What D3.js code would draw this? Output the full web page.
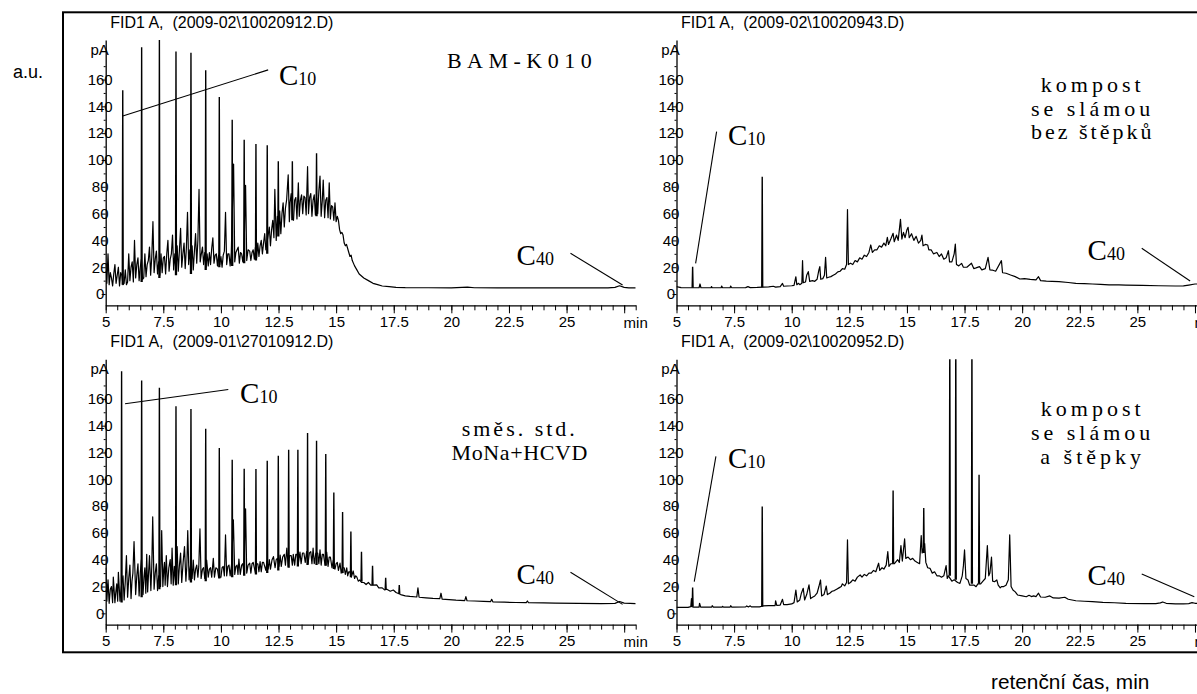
<!DOCTYPE html>
<html>
<head>
<meta charset="utf-8">
<script src="https://cdn.jsdelivr.net/npm/d3@7/dist/d3.min.js"></script>
<style>
  body { margin: 0; background: #fff; }
  svg { display: block; }
  .tick text { font-family: "Liberation Sans", Arial, sans-serif; font-size: 15px; fill: #000; }
  .serif { font-family: "Liberation Serif", "Times New Roman", serif; fill: #000; }
  .sans { font-family: "Liberation Sans", Arial, sans-serif; fill: #000; }
</style>
</head>
<body>
<svg id="chart" width="1197" height="694"></svg>
<script>
// tick values
var xTicks = [5, 7.5, 10, 12.5, 15, 17.5, 20, 22.5, 25, 27.5];
var xLabelled = [5, 7.5, 10, 12.5, 15, 17.5, 20, 22.5, 25];
var xMinor = d3.range(5, 28.01, 0.5);
var yTicks = [0, 20, 40, 60, 80, 100, 120, 140, 160];
var yMinor = [10, 30, 50, 70, 90, 110, 130, 150, 170];

// run titles
var titles = ["FID1 A,  (2009-02\\10020912.D)", "FID1 A,  (2009-02\\10020943.D)",
              "FID1 A,  (2009-01\\27010912.D)", "FID1 A,  (2009-02\\10020952.D)"];

// sample names (lines of text)
var sampleNames = [["BAM-K010"], ["kompost", "se slámou", "bez štěpků"],
                   ["směs. std.", "MoNa+HCVD"], ["kompost", "se slámou", "a štěpky"]];
var nameSpacing = [[5.5], [4, 4, 3], [3, 0.6], [4, 4, 4]];

// --- BAM-K010 (top left): signal [min, pA]
var tlTrace = [[5.00,22],[5.05,8],[5.10,30],[5.15,7],[5.20,16],[5.25,12],[5.30,6],[5.35,15],[5.40,22],[5.45,8],[5.50,14],[5.55,20],[5.60,6],
  [5.65,16],[5.70,14],[5.75,7],[5.80,8],[5.85,18],[5.90,7],[5.95,9],[6.00,30],[6.05,10],[6.10,20],[6.15,24],[6.20,9],[6.25,40],[6.30,12],
  [6.35,22],[6.40,27],[6.45,10],[6.50,20],[6.55,26],[6.60,11],[6.65,12],[6.70,30],[6.75,13],[6.80,22],[6.85,25],[6.90,35],[6.95,14],[7.00,28],[7.05,54],
  [7.10,16],[7.15,26],[7.20,32],[7.25,15],[7.30,24],[7.35,14],[7.40,30],[7.45,16],[7.50,27],[7.55,28],[7.60,15],[7.65,30],[7.70,40],[7.75,17],[7.80,26],[7.85,30],
  [7.90,44],[7.95,18],[8.00,30],[8.05,16],[8.10,36],[8.15,17],[8.20,33],[8.25,49],[8.30,20],[8.35,30],[8.40,38],[8.45,19],[8.50,34],[8.55,61],[8.60,22],
  [8.65,33],[8.70,19],[8.75,36],[8.80,18],[8.85,32],[8.90,45],[8.95,23],[9.00,40],[9.05,78],[9.10,24],[9.15,30],[9.20,35],[9.25,22],[9.30,31],[9.35,20],[9.40,30],[9.45,21],
  [9.50,31],[9.55,22],[9.60,34],[9.65,42],[9.70,23],[9.75,29],[9.80,30],[9.85,21],[9.90,29],[9.95,22],[10.00,28],[10.05,20],[10.10,29],[10.15,32],[10.20,61],[10.25,22],
  [10.30,30],[10.35,30],[10.40,21],[10.45,31],[10.55,97],[10.60,24],[10.65,31],[10.70,33],[10.75,35],[10.80,23],[10.85,31],[10.90,30],[10.95,24],[11.00,32],[11.07,81],
  [11.12,25],[11.18,33],[11.25,32],[11.30,25],[11.35,31],[11.40,33],[11.45,26],[11.50,35],[11.55,27],[11.60,38],[11.65,28],[11.70,36],[11.75,40],[11.80,30],[11.85,38],[11.90,45],
  [11.95,33],[12.05,44],[12.10,50],[12.15,36],[12.20,48],[12.25,55],[12.30,42],[12.34,78],[12.40,40],[12.45,58],[12.50,44],[12.55,62],[12.60,45],[12.65,60],[12.70,68],[12.75,50],
  [12.80,64],[12.85,70],[12.92,89],[12.97,54],[13.00,68],[13.05,75],[13.10,57],[13.15,55],[13.20,70],[13.25,72],[13.30,56],[13.36,83],[13.40,58],[13.45,70],[13.50,74],[13.55,60],
  [13.60,73],[13.65,72],[13.70,59],[13.76,95],[13.80,60],[13.85,72],[13.90,75],[13.95,58],[14.00,70],[14.05,74],[14.10,59],[14.15,72],[14.20,60],[14.25,77],[14.30,88],[14.35,58],
  [14.40,70],[14.44,85],[14.50,57],[14.55,70],[14.60,72],[14.65,57],[14.70,83],[14.75,56],[14.80,66],[14.85,65],[14.90,55],[14.95,68],[15.00,54],[15.05,58],[15.10,55],[15.15,48],[15.20,45],
  [15.25,46],[15.30,44],[15.35,38],[15.40,36],[15.45,37],[15.50,34],[15.55,31],[15.60,28],[15.65,29],[15.70,25],[15.80,21],[15.90,18],[16.00,15],[16.20,12],[16.40,10],
  [16.60,8],[16.80,7],[17.00,6],[17.30,5.5],[17.60,5],[18.00,4.8],[19.00,4.7],[20.00,4.6],[20.70,5.2],[21.00,4.7],
  [22.00,4.6],[26.80,4.6],[27.10,5.0],[27.30,6.2],[27.50,5.0],[27.70,4.6],[28.00,4.6]];
// n-alkane peaks: [min, base pA, top pA]
var tlPeaks = [[5.74,7,152],[6.56,9,184],[7.33,12,190],[8.05,14,181],[8.70,15,180],[9.34,18,167],[9.93,20,147],
  [10.49,21,130],[11.01,23,115],[11.52,25,112],[12.01,30,111],[12.49,43,99],[13.10,55,99],[14.15,58,105]];

// --- kompost se slámou bez štěpků (top right)
var trTrace = [[5.0,5.5],[5.2,4.8],[5.6,4.7],[5.98,4.7],[6.02,7.5],[6.06,4.7],[6.5,4.7],[6.52,5.6],[6.55,4.7],
  [6.94,4.7],[6.96,6],[7.0,4.7],[7.33,4.7],[7.35,6],[7.4,4.7],[8.0,4.8],[8.1,5.5],[8.2,4.8],[8.5,4.9],[8.75,5.2],
  [9.0,5.3],[9.2,5.8],[9.3,5.2],[9.5,5.6],[9.6,7.9],[9.65,5.8],[9.8,6],[10.0,6.2],[10.1,6.5],[10.18,12.9],
  [10.22,7],[10.3,8],[10.35,7],[10.44,8],[10.47,25],[10.5,8.5],[10.6,9],[10.65,14],[10.72,16.7],[10.78,9.5],
  [10.9,10],[11.0,9.5],[11.1,11],[11.18,18],[11.22,20.4],[11.26,11],[11.35,11.5],[11.42,14],[11.47,27.4],[11.52,12],
  [11.6,12.5],[11.7,13],[11.8,14],[11.9,15],[12.0,16.5],[12.1,17],[12.2,19],[12.3,18.5],[12.38,22],[12.42,63],
  [12.46,22],[12.55,23],[12.65,22],[12.75,25],[12.85,24],[12.95,27],[13.05,26],[13.15,29],[13.25,28],[13.35,31],
  [13.43,36.6],[13.5,31],[13.6,33],[13.7,33],[13.8,36],[13.9,35],[14.0,38],[14.08,36],[14.15,42.3],[14.2,37],
  [14.3,41],[14.4,45.3],[14.45,39],[14.55,44],[14.62,40],[14.72,55.7],[14.78,41],[14.85,46],[14.92,42],[15.0,48],
  [15.05,49.8],[15.1,42],[15.2,45],[15.3,40],[15.4,43],[15.5,38],[15.6,40],[15.65,44],[15.7,36],[15.8,37],
  [15.9,36.6],[15.95,33],[16.05,33],[16.15,30],[16.3,31],[16.4,28],[16.5,29.9],[16.6,26],[16.7,27],[16.8,32.3],
  [16.85,24],[16.95,24],[17.05,30],[17.1,37.3],[17.15,22],[17.25,21],[17.37,22.9],[17.45,20],[17.6,20],[17.8,23],
  [17.9,19],[18.0,19.5],[18.15,20.4],[18.25,18],[18.4,19],[18.52,27.4],[18.6,18],[18.7,17.9],[18.85,17],[19.1,24.9],
  [19.15,15.9],[19.3,15.5],[19.5,14.2],[19.7,13],[19.9,11.2],[20.1,11.5],[20.35,10.9],[20.6,10.5],[20.71,12.9],[20.8,10],
  [21.05,9.7],[21.3,9.5],[21.6,9.2],[22.0,8.6],[22.33,8],[22.7,7.8],[23.05,7.5],[23.4,7.2],[23.77,6.9],[24.2,6.8],
  [24.5,6.7],[25.2,6.5],[25.93,6.2],[26.65,6.0],[27.0,6.1],[27.23,6.7],[27.5,7.5],[28,7.5]];
var trPeaks = [[5.70,4.7,20.4],[8.72,5,87.5]];

// --- směs. std. MoNa+HCVD (bottom left)
var blTrace = [[5.00,34],[5.05,9],[5.10,25],[5.15,7.5],[5.20,18],[5.25,20],[5.30,8],[5.33,27],[5.40,8],[5.44,16],[5.48,22],[5.52,9],[5.55,30.6],[5.62,9],
  [5.68,20],[5.75,28],[5.80,10],[5.85,24],[5.90,43],[5.95,12],[6.00,26],[6.05,36],[6.10,11],[6.14,24],[6.18,30],[6.23,53.5],[6.30,14],[6.35,28],[6.40,37],
  [6.45,13],[6.50,30],[6.55,40],[6.62,14],[6.66,27],[6.70,34],[6.74,15],[6.78,44],[6.82,16],[6.86,30],[6.90,43],[6.96,17],[7.00,35],[7.04,72],[7.10,18],
  [7.15,30],[7.20,37],[7.25,17],[7.30,28],[7.38,20],[7.43,61.8],[7.48,20],[7.52,33],[7.55,38],[7.58,21],[7.63,43],[7.68,20],[7.74,34],[7.80,40],[7.84,22],[7.88,48.6],[7.93,21],
  [7.98,35],[8.03,23],[8.10,49.8],[8.15,22],[8.20,36],[8.25,45],[8.30,23],[8.36,38],[8.42,49.8],[8.48,24],[8.52,35],[8.56,61.8],[8.62,25],[8.66,33],[8.70,38],[8.75,26],[8.80,39.8],
  [8.85,25],[8.90,33],[8.95,36],[9.00,27],[9.04,35],[9.09,63],[9.14,26],[9.20,33],[9.25,34],[9.30,26],[9.38,39.8],[9.45,27],[9.50,33],[9.55,34],[9.60,27],[9.67,41],
  [9.72,27],[9.78,34],[9.85,33],[9.90,27],[10.00,27],[10.05,34],[10.10,35],[10.15,28],[10.20,58.5],[10.25,28],[10.30,35],[10.35,36],[10.40,28],[10.46,36],[10.54,69.8],[10.60,29],
  [10.65,35],[10.70,36],[10.74,29],[10.78,40.5],[10.84,29],[10.90,36],[10.95,37],[11.00,30],[11.07,78],[11.12,30],[11.18,36],[11.25,37.4],[11.30,30],[11.35,37],[11.40,38],[11.50,30],
  [11.55,37],[11.60,37],[11.65,31],[11.70,38.6],[11.75,31],[11.80,38],[11.85,38],[11.95,32],[12.00,39],[12.05,33],[12.10,40],[12.15,33],[12.22,40],[12.28,42.3],[12.35,34],[12.40,40],[12.45,41],
  [12.52,35],[12.57,43.4],[12.62,35],[12.68,42],[12.75,44],[12.80,36],[12.86,48.6],[12.92,35],[12.98,43],[13.05,43],[13.10,36],[13.14,44],[13.20,36],[13.25,44],[13.30,44],[13.36,37],[13.43,45.7],
  [13.48,37],[13.54,45],[13.60,45],[13.66,38],[13.72,46],[13.78,37],[13.84,45],[13.90,46],[13.95,37],[14.00,48.6],[14.05,37],[14.12,45],[14.20,45],[14.25,37],[14.30,47.4],[14.35,36],
  [14.40,44],[14.45,44],[14.52,36],[14.59,45.7],[14.65,35],[14.70,42],[14.75,42],[14.82,34],[14.88,39.8],[14.95,33],[15.00,37],[15.05,38],[15.10,32],[15.17,37.4],[15.22,30],[15.28,34],[15.35,34],
  [15.40,29],[15.46,34],[15.50,28],[15.55,31],[15.60,31],[15.66,27],[15.74,31.6],[15.80,26],[15.85,28],[15.90,27],[15.96,24],[16.03,24.9],[16.10,23],[16.20,23],[16.30,21.5],[16.40,23],[16.50,21],[16.60,21],
  [16.76,21.2],[16.85,19],[17.00,19],[17.10,17.5],[17.20,18],[17.35,16.5],[17.48,17.4],[17.60,15.5],[17.80,14],[18.00,13],[18.20,12.6],[18.50,12.2],[18.55,19],
  [18.60,12],[18.90,11.6],[19.20,11.2],[19.50,11],[19.55,15],[19.60,10.6],[19.90,10.2],
  [20.20,9.8],[20.58,9.5],[20.63,12.5],[20.68,9.4],[21.00,9.2],[21.40,8.9],[21.70,8.7],[21.75,10.5],[21.80,8.6],[22.30,8.3],
  [22.80,8.1],[23.25,8],[23.30,9.2],[23.35,7.9],[24.00,7.8],[24.50,7.6],[25.50,7.4],[26.50,7.2],[27.10,7.4],[27.30,8.8],[27.50,7.6],[28.00,7.3]];
var blPeaks = [[5.69,8,180.6],[6.56,12,173.7],[7.33,18,168.2],[8.05,21,154.5],[8.70,23,152.5],[9.34,24,137.6],
  [9.93,26,123.4],[10.49,27,114.6],[11.01,28,107.9],[11.52,29,107.7],[12.01,30,113.9],[12.49,32,117.6],
  [12.94,34,122.1],[13.34,35,122.1],[13.76,36,134.6],[14.15,36,128.8],[14.55,35.5,118.9],[14.90,33,90.2],
  [15.28,30,75.5],[15.64,27,61],[16.10,23.6,46],[16.58,21,35.4],[17.15,18,26.6],[17.74,14.5,21.2]];

// --- kompost se slámou a štěpky (bottom right)
var brTrace = [[5.0,4.5],[5.5,4.5],[5.62,5],[5.65,11],[5.67,5],[5.75,4.6],[5.98,4.6],[6.0,7.5],[6.05,4.6],[6.53,4.6],
  [6.55,5.7],[6.6,4.6],[6.98,4.6],[7.0,5.2],[7.05,4.6],[7.33,4.6],[7.35,5.7],[7.4,4.6],[8.0,4.8],[8.05,5.5],
  [8.12,4.8],[8.2,5.6],[8.25,4.8],[8.6,4.8],[8.75,5.5],[9.0,5.8],[9.28,5.8],[9.3,9.4],[9.35,6],[9.5,6.2],
  [9.6,10.5],[9.65,6.5],[9.8,6.5],[10.0,7],[10.1,8],[10.18,17.4],[10.24,8.5],[10.35,10],[10.42,15],[10.5,18.7],
  [10.56,10],[10.65,14],[10.75,21.2],[10.82,11],[10.9,12],[11.0,13],[11.1,15],[11.18,20],[11.25,24.9],[11.3,13],
  [11.4,14],[11.5,20.4],[11.55,14],[11.65,15],[11.75,16.5],[11.85,17],[11.95,18],[12.05,19],[12.15,20],[12.2,22],
  [12.3,20.5],[12.38,23],[12.42,54.8],[12.46,22],[12.55,23],[12.65,25],[12.75,24],[12.85,27],[12.97,28.6],[13.05,27],
  [13.15,29],[13.25,28],[13.35,30],[13.45,30],[13.55,32],[13.65,31],[13.77,37.4],[13.82,32],[13.92,34],[14.0,33],
  [14.1,36],[14.17,46],[14.22,35],[14.3,37],[14.45,37],[14.5,38],[14.6,40],[14.67,38],[14.74,50.5],[14.8,39],
  [14.9,55.5],[14.95,41],[15.05,42],[15.15,40],[15.25,41],[15.35,39],[15.45,38],[15.55,37],[15.62,58],[15.66,45],
  [15.77,52],[15.82,38],[15.9,34],[16.0,33.6],[16.1,30],[16.2,31],[16.3,28],[16.4,28],[16.5,27],[16.6,28],
  [16.7,35.6],[16.75,26],[16.8,28],[16.95,24],[17.05,25],[17.2,23],[17.3,22.4],[17.4,28],[17.45,35.4],[17.5,47.3],
  [17.56,26],[17.65,24.9],[17.72,21],[17.92,21],[18.0,19.9],[18.08,22],[18.2,22],[18.3,24],[18.4,26],[18.49,50.5],
  [18.55,28],[18.6,30],[18.67,41.9],[18.72,24],[18.8,23.6],[18.9,24.9],[18.96,21],[19.05,19],[19.1,19.9],[19.2,20],
  [19.3,21],[19.4,25],[19.46,58.5],[19.52,20],[19.6,17.4],[19.7,16],[19.8,13.7],[20.0,13],[20.18,12.4],[20.3,13.5],
  [20.4,12.5],[20.5,13],[20.6,12.5],[20.71,15],[20.8,12.2],[21.0,12],[21.2,13],[21.35,11.5],[21.6,11.3],[21.85,12],
  [22.0,10.5],[22.33,9.4],[22.7,9],[23.05,8.7],[23.5,8.2],[24.0,7.9],[24.5,7.5],[25.3,7.3],[25.8,7.3],[26.0,7.8],
  [26.1,8.5],[26.25,7.5],[26.65,7],[27.0,7.1],[27.23,7.3],[27.37,8],[27.5,7.5],[28,7.4]];
var brPeaks = [[5.70,5,19.2],[8.72,5,79.7],[14.40,37,91.7],[15.73,45,78.5],[16.86,28,210],[17.12,25,210],
  [17.82,22,210],[18.13,22,103.4]];

// C10 / C40 annotations: [label min, label pA, line from min, pA, line to min, pA]
var c10Notes = [[12.52,156,5.74,132.8,12.05,167.2], [7.23,111.2,5.83,22.9,6.74,121.1],
                [10.83,156.9,5.84,156.3,10.32,167], [7.23,108.3,5.77,23.6,6.71,117.1]];
var c40Notes = [[22.83,21.6,25.17,30.4,27.43,6.7], [22.84,25.4,25.19,34.1,27.29,9.7],
                [22.83,21.9,25.17,30.7,27.43,6.7], [22.84,21.2,25.19,29.4,27.47,12.4]];
// sample name position: [centre min, first baseline pA, line step pA]
var nameAt = [[23.07,168.7,0], [23.06,150.7,17.6], [22.97,132.4,17.8], [23.06,147.5,17.9]];

var traces = [tlTrace, trTrace, blTrace, brTrace];
var peaks = [tlPeaks, trPeaks, blPeaks, brPeaks];
var panelLeft = [105.7, 676.5, 105.7, 676.5];
var panelTop = [0, 0, 319.3, 319.3];

var svg = d3.select("#chart");
svg.append("rect").attr("width", 1197).attr("height", 694).attr("fill", "#fff");

// outer frame (right side runs past the picture)
svg.append("rect").attr("x", 63).attr("y", 12.3).attr("width", 1160).attr("height", 640)
  .attr("fill", "none").attr("stroke", "#000").attr("stroke-width", 2);

svg.append("text").attr("class", "sans").attr("x", 13).attr("y", 78).attr("font-size", 18).text("a.u.");
svg.append("text").attr("class", "sans").attr("x", 991).attr("y", 689).attr("font-size", 20.8).text("retenční čas, min");

panelLeft.forEach(function(ox, i) {
  var oy = panelTop[i];
  var x = d3.scaleLinear().domain([5, 28]).range([ox, ox + 530]);
  var y = d3.scaleLinear().domain([-8.4, 189.5]).range([oy + 305.3, oy + 40]);
  var g = svg.append("g");

  var clipId = "clip" + i;
  svg.append("clipPath").attr("id", clipId).append("rect")
    .attr("x", ox).attr("y", oy + 40).attr("width", 530).attr("height", 266);

  // x axis
  g.append("g").attr("transform", "translate(0," + (oy + 305.3) + ")")
    .call(d3.axisBottom(x).tickValues(xMinor).tickSize(5).tickSizeOuter(0).tickFormat(""))
    .call(function(a) { a.select(".domain").remove(); });
  g.append("g").attr("transform", "translate(0," + (oy + 305.3) + ")")
    .call(d3.axisBottom(x).tickValues(xTicks).tickSize(8).tickSizeOuter(0)
      .tickFormat(function(d) { return xLabelled.indexOf(d) >= 0 ? d : ""; }))
    .call(function(a) { a.select(".domain").attr("stroke-width", 1.3); });
  g.append("text").attr("class", "sans").attr("x", x(28)).attr("y", oy + 327.5)
    .attr("text-anchor", "middle").attr("font-size", 15).text("min");

  // y axis
  g.append("g").attr("transform", "translate(" + ox + ",0)")
    .call(d3.axisLeft(y).tickValues(yMinor).tickSize(2).tickSizeOuter(0).tickFormat(""))
    .call(function(a) { a.select(".domain").remove(); });
  g.append("g").attr("transform", "translate(" + ox + ",0)")
    .call(d3.axisLeft(y).tickValues(yTicks).tickSize(4).tickSizeOuter(0))
    .call(function(a) {
      a.select(".domain").attr("stroke-width", 1.3);
      a.selectAll(".tick text").attr("x", -5.5).attr("text-anchor", "middle");
    });
  g.append("text").attr("class", "sans").attr("x", ox - 6).attr("y", y(178.4))
    .attr("text-anchor", "middle").attr("font-size", 15).text("pA");

  // run title
  g.append("text").attr("class", "sans").attr("x", ox + 4.5).attr("y", oy + 28)
    .attr("font-size", 16).attr("xml:space", "preserve").style("white-space", "pre").text(titles[i]);

  // signal
  var line = d3.line().x(function(d) { return x(d[0]); }).y(function(d) { return y(d[1]); });
  var plot = g.append("g").attr("clip-path", "url(#" + clipId + ")");
  plot.append("path").datum(traces[i]).attr("d", line)
    .attr("fill", "none").attr("stroke", "#000").attr("stroke-width", 1.2).attr("stroke-linejoin", "round");
  plot.selectAll(".peak").data(peaks[i]).enter().append("path").attr("class", "peak")
    .attr("d", function(d) { return line([[d[0] - 0.02, d[1]], [d[0], d[2]], [d[0] + 0.02, d[1]]]); })
    .attr("fill", "none").attr("stroke", "#000").attr("stroke-width", 1.4);

  // C10 and C40 labels
  [c10Notes[i], c40Notes[i]].forEach(function(n, k) {
    g.append("line").attr("x1", x(n[2])).attr("y1", y(n[3])).attr("x2", x(n[4])).attr("y2", y(n[5]))
      .attr("stroke", "#000").attr("stroke-width", 1.1);
    var t = g.append("text").attr("class", "serif").attr("x", x(n[0])).attr("y", y(n[1]));
    t.append("tspan").attr("font-size", 29).text("C");
    t.append("tspan").attr("font-size", 18).text(k === 0 ? "10" : "40");
  });

  // sample name
  var p = nameAt[i];
  sampleNames[i].forEach(function(s, k) {
    g.append("text").attr("class", "serif").attr("x", x(p[0])).attr("y", y(p[1] - k * p[2]))
      .attr("text-anchor", "middle").attr("font-size", 22).attr("letter-spacing", nameSpacing[i][k]).text(s);
  });
});
</script>
</body>
</html>
